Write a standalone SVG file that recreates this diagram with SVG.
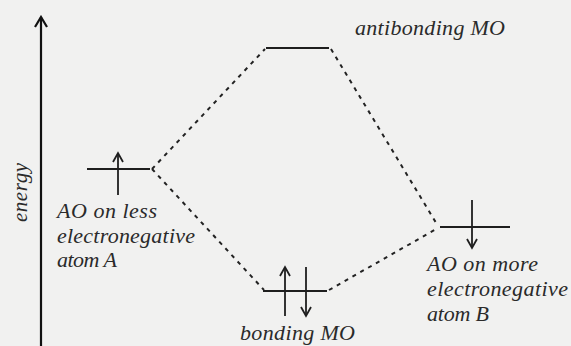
<svg xmlns="http://www.w3.org/2000/svg" width="571" height="346" viewBox="0 0 571 346">
<style>
text{font-family:"Liberation Serif","Times New Roman",serif;font-style:italic;fill:#2a2a2a;font-size:22px}
text.en{font-size:21px}
.lvl{stroke:#1e1e1e;stroke-width:2;fill:none}
.spin{stroke:#1e1e1e;stroke-width:1.8;fill:none}
.dash{stroke:#222;stroke-width:2;stroke-dasharray:4 5;fill:none}
</style>
<defs>
<marker id="ah" viewBox="0 0 12 12" refX="10" refY="6" markerWidth="12" markerHeight="12" markerUnits="userSpaceOnUse" orient="auto">
<path d="M1,1 L10,6 L1,11" fill="none" stroke="#1e1e1e" stroke-width="1.8"/>
</marker>
<marker id="ax" viewBox="0 0 14 14" refX="12" refY="7" markerWidth="14" markerHeight="14" markerUnits="userSpaceOnUse" orient="auto">
<path d="M2,1 L12,7 L2,13" fill="none" stroke="#111" stroke-width="2.2"/>
</marker>
</defs>
<rect width="571" height="346" fill="#f1f1f0"/>
<g id="axis">
<line x1="41" y1="346" x2="41" y2="17" stroke="#111" stroke-width="2.2" marker-end="url(#ax)"/>
<text class="en" transform="translate(27,222) rotate(-90)" textLength="59" lengthAdjust="spacing">energy</text>
</g>
<g id="connectors">
<line class="dash" x1="152" y1="169" x2="265" y2="49"/>
<line class="dash" x1="152" y1="169" x2="264" y2="290"/>
<line class="dash" x1="331" y1="49" x2="438" y2="226"/>
<line class="dash" x1="329" y1="290" x2="438" y2="228"/>
</g>
<g id="aoA">
<line class="lvl" x1="87" y1="169" x2="150" y2="169"/>
<line class="spin" x1="118" y1="195" x2="118" y2="153" marker-end="url(#ah)"/>
<text x="57" y="218" textLength="100" lengthAdjust="spacing">AO on less</text>
<text x="57" y="243" textLength="138" lengthAdjust="spacing">electronegative</text>
<text x="57" y="267" textLength="60" lengthAdjust="spacing">atom A</text>
</g>
<g id="antibonding">
<line class="lvl" x1="266" y1="48" x2="329" y2="48"/>
<text x="355" y="35" textLength="150" lengthAdjust="spacing">antibonding MO</text>
</g>
<g id="bonding">
<line class="lvl" x1="263" y1="291" x2="327" y2="291"/>
<line class="spin" x1="285" y1="316" x2="285" y2="267" marker-end="url(#ah)"/>
<line class="spin" x1="306" y1="267" x2="306" y2="316" marker-end="url(#ah)"/>
<text x="240" y="340" textLength="115" lengthAdjust="spacing">bonding MO</text>
</g>
<g id="aoB">
<line class="lvl" x1="440" y1="227" x2="510" y2="227"/>
<line class="spin" x1="472" y1="200" x2="472" y2="248" marker-end="url(#ah)"/>
<text x="427" y="271" textLength="111" lengthAdjust="spacing">AO on more</text>
<text x="427" y="296" textLength="141" lengthAdjust="spacing">electronegative</text>
<text x="427" y="321" textLength="62" lengthAdjust="spacing">atom B</text>
</g>
</svg>
